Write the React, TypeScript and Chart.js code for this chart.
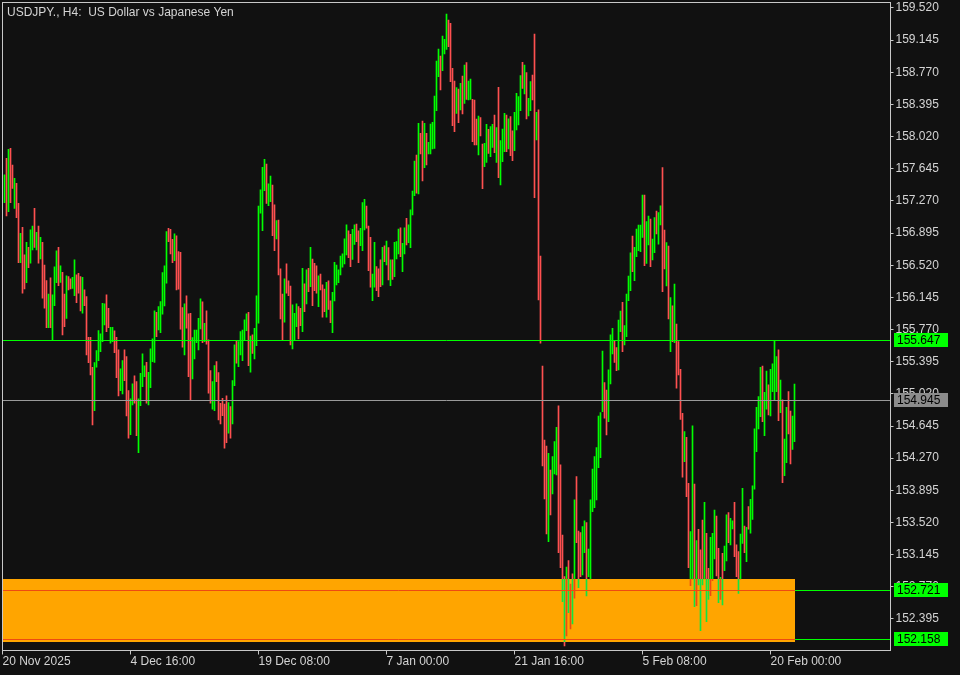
import React, { useEffect, useRef } from 'react';
import { Chart, registerables } from 'chart.js';

Chart.register(...registerables);

const TITLE = 'USDJPY., H4:  US Dollar vs Japanese Yen';

// category slots (H4 bars) incl. empty space on the right
const slotCount = 445;
const xTickIndex = [0, 64, 128, 192, 256, 320, 384];
const xTickLabels = ['20 Nov 2025', '4 Dec 16:00', '19 Dec 08:00', '7 Jan 00:00', '21 Jan 16:00', '5 Feb 08:00', '20 Feb 00:00'];

const yMin = 152.027;
const yMax = 159.584;
const yTickValues = [152.395, 152.770, 153.145, 153.520, 153.895, 154.270, 154.645, 155.020, 155.395, 155.770,
  156.145, 156.520, 156.895, 157.270, 157.645, 158.020, 158.395, 158.770, 159.145, 159.520];

const highs: (number | null)[] = [null,
  157.573, 157.767, 157.872, 157.884, 157.689, 157.534, 157.476, 157.242, 156.893, 156.963,
  156.640, 156.788, 156.729, 156.932, 156.978, 157.184, 156.904, 156.978, 156.846, 156.788,
  156.523, 156.341, 156.185, 156.372, 156.174, 156.500, 156.687, 156.729, 156.512, 156.438,
  156.185, 156.395, 156.387, 156.360, 156.380, 156.582, 156.407, 156.426, 156.387, 156.380,
  156.232, 156.154, 155.680, 155.680, 155.330, 155.385, 155.524, 155.758, 155.719, 156.076,
  156.069, 156.174, 156.018, 155.797, 155.797, 155.754, 155.680, 155.532, 155.311, 155.408,
  155.532, 155.454, 155.058, 154.961, 155.136, 155.229, 155.163, 154.961, 155.260, 155.486,
  155.346, 155.388, 155.272, 155.544, 155.661, 155.987, 155.971, 156.037, 156.096, 156.434,
  156.512, 156.912, 156.951, 156.939, 156.823, 156.885, 156.862, 156.679, 156.671, 156.026,
  156.069, 156.162, 155.952, 155.960, 155.676, 155.765, 155.765, 155.901, 156.127, 156.092,
  155.843, 155.987, 155.649, 155.291, 155.163, 155.350, 155.396, 155.268, 154.910, 154.969,
  154.902, 154.996, 154.918, 154.871, 155.175, 155.591, 155.641, 155.629, 155.746, 155.765,
  155.882, 155.952, 155.971, 155.695, 155.707, 155.785, 156.162, 157.211, 157.398, 157.662,
  157.756, 157.701, 157.468, 157.561, 157.456, 157.223, 157.040, 157.048, 156.477, 156.185,
  156.360, 156.535, 156.337, 156.278, 156.057, 155.960, 156.069, 156.037, 156.018, 156.485,
  156.302, 156.465, 156.485, 156.729, 156.593, 156.543, 156.512, 156.395, 156.418, 156.290,
  156.243, 156.321, 156.337, 156.104, 156.205, 156.554, 156.523, 156.465, 156.628, 156.652,
  156.827, 156.990, 156.920, 156.881, 156.939, 156.990, 157.001, 156.920, 156.951, 157.250,
  157.289, 157.211, 156.978, 156.846, 156.418, 156.788, 156.504, 156.477, 156.582, 156.729,
  156.745, 156.803, 156.725, 156.582, 156.582, 156.788, 156.795, 156.943, 156.955, 156.776,
  156.955, 157.068, 156.990, 157.165, 157.386, 157.736, 157.806, 158.175, 158.058, 158.202,
  158.175, 158.058, 157.953, 158.167, 158.186, 158.494, 158.902, 159.042, 158.960, 159.193,
  159.154, 159.450, 159.380, 159.341, 158.816, 158.668, 158.591, 158.575, 158.641, 158.727,
  158.855, 158.882, 158.668, 158.692, 158.455, 158.447, 158.225, 158.260, 158.241, 157.934,
  157.942, 158.163, 158.105, 158.136, 158.163, 158.272, 158.124, 158.595, 157.973, 158.109,
  158.292, 158.272, 158.226, 158.253, 158.086, 158.303, 158.525, 158.486, 158.731, 158.886,
  158.855, 158.766, 158.467, 158.661, 158.739, 159.217, 158.303, 158.331, 156.628, 155.345,
  154.482, 154.412, 154.327, 154.132, 154.288, 154.463, 154.630, 154.879, 154.191, 153.374,
  152.889, 153.000, 153.075, 152.803, 152.920, 153.783, 154.055, 153.421, 153.402, 153.472,
  153.538, 153.518, 153.211, 153.783, 154.144, 154.288, 154.393, 154.762, 154.801, 155.520,
  155.151, 155.065, 155.299, 155.707, 155.784, 155.636, 155.559, 155.881, 155.986, 156.087,
  155.815, 156.184, 156.394, 156.666, 156.861, 156.729, 156.942, 156.989, 156.989, 157.339,
  157.339, 157.028, 157.094, 157.059, 156.826, 157.075, 157.152, 157.133, 157.214, 157.658,
  156.931, 156.783, 156.744, 156.142, 156.048, 156.301, 155.835, 155.629, 155.306, 154.793,
  154.579, 154.513, 153.977, 153.413, 154.646, 153.969, 153.308, 153.441, 153.200, 153.549,
  153.755, 153.394, 152.986, 153.347, 153.394, 153.666, 153.596, 153.219, 152.881, 153.161,
  153.246, 153.608, 153.635, 153.569, 153.538, 153.755, 153.258, 153.180, 153.386, 153.919,
  153.479, 153.464, 153.705, 153.790, 153.946, 154.611, 154.863, 154.988, 155.330, 155.345,
  155.038, 155.287, 155.124, 155.306, 155.369, 155.637, 155.454, 155.532, 155.182, 154.949,
  154.494, 154.863, 155.046, 154.820, 154.762, 155.135];

const lows: (number | null)[] = [null,
  157.250, 157.095, 157.145, 157.250, 157.417, 157.184, 157.075, 156.551, 156.551, 156.193,
  156.243, 156.317, 156.492, 156.543, 156.698, 156.729, 156.698, 156.543, 156.593, 156.135,
  156.018, 155.793, 155.793, 155.793, 155.649, 156.049, 156.317, 156.282, 156.321, 155.707,
  155.804, 155.901, 156.232, 156.243, 156.251, 156.166, 156.084, 156.193, 155.987, 155.960,
  156.049, 155.474, 155.385, 155.241, 154.658, 154.825, 155.330, 155.408, 155.513, 155.629,
  155.824, 155.746, 155.793, 155.610, 155.629, 155.501, 155.210, 154.996, 155.058, 155.019,
  155.175, 154.763, 154.502, 154.545, 154.891, 154.910, 154.533, 154.335, 154.883, 155.105,
  155.221, 154.910, 154.891, 155.093, 155.396, 155.388, 155.688, 155.765, 155.734, 155.948,
  156.045, 156.310, 156.795, 156.652, 156.551, 156.574, 156.232, 156.240, 155.773, 155.563,
  155.474, 155.785, 155.221, 154.941, 155.194, 155.427, 155.618, 155.532, 155.777, 155.618,
  155.629, 155.598, 155.027, 154.910, 154.840, 154.825, 155.163, 154.716, 154.669, 154.767,
  154.386, 154.452, 154.561, 154.502, 154.669, 155.116, 155.377, 155.338, 155.474, 155.408,
  155.649, 155.758, 155.350, 155.272, 155.493, 155.427, 155.583, 155.843, 157.126, 156.924,
  157.390, 157.242, 157.215, 157.262, 156.865, 156.690, 156.827, 156.407, 155.894, 155.649,
  155.855, 156.193, 156.166, 155.591, 155.544, 155.649, 155.804, 155.661, 155.816, 155.746,
  155.979, 156.069, 156.212, 156.271, 156.049, 156.224, 156.193, 156.037, 156.232, 155.913,
  155.979, 155.913, 156.006, 155.851, 155.734, 156.104, 156.290, 156.317, 156.407, 156.496,
  156.535, 156.640, 156.609, 156.504, 156.589, 156.764, 156.795, 156.551, 156.749, 156.690,
  156.932, 156.951, 156.457, 156.263, 156.107, 156.263, 156.224, 156.154, 156.271, 156.290,
  156.562, 156.523, 156.348, 156.282, 156.356, 156.387, 156.593, 156.652, 156.621, 156.446,
  156.652, 156.757, 156.784, 156.725, 157.106, 157.332, 157.359, 157.351, 157.817, 157.502,
  157.658, 157.689, 157.817, 157.817, 157.876, 157.883, 158.323, 158.719, 158.564, 158.789,
  158.983, 159.038, 159.069, 158.661, 158.148, 158.078, 158.291, 158.183, 158.330, 158.284,
  158.408, 158.455, 158.447, 158.455, 157.961, 157.922, 157.922, 157.806, 158.027, 157.413,
  157.670, 157.720, 157.825, 157.786, 157.895, 157.833, 157.720, 157.541, 157.456, 157.728,
  157.845, 157.845, 157.876, 157.798, 157.740, 157.856, 158.097, 158.156, 158.323, 158.583,
  158.517, 158.226, 158.261, 158.323, 158.447, 157.308, 157.981, 156.115, 155.610, 154.179,
  153.794, 153.386, 153.297, 153.608, 153.853, 154.086, 154.074, 153.168, 152.994, 152.597,
  152.080, 152.197, 152.469, 152.278, 152.337, 152.636, 153.285, 152.760, 152.889, 152.908,
  153.168, 152.663, 152.889, 152.858, 153.647, 153.693, 153.783, 154.160, 154.276, 154.813,
  154.735, 154.541, 154.696, 155.135, 155.485, 155.388, 155.291, 155.299, 155.746, 155.512,
  155.590, 155.687, 156.107, 156.223, 156.445, 156.340, 156.620, 156.690, 156.678, 156.845,
  156.515, 156.542, 156.756, 156.503, 156.581, 156.666, 156.884, 156.767, 156.989, 156.212,
  156.476, 156.278, 155.893, 155.512, 155.629, 155.617, 155.085, 155.240, 154.723, 154.047,
  154.230, 153.822, 152.994, 152.784, 152.858, 152.539, 152.550, 152.792, 152.259, 152.792,
  152.861, 152.364, 152.624, 152.667, 152.842, 153.095, 152.896, 152.585, 152.624, 152.558,
  152.959, 153.071, 153.285, 153.258, 153.444, 153.122, 152.889, 152.694, 152.858, 153.277,
  153.168, 153.063, 153.441, 153.394, 153.557, 153.907, 154.346, 154.611, 154.754, 154.696,
  154.533, 154.840, 154.774, 154.762, 155.046, 154.941, 155.046, 154.708, 154.801, 153.985,
  154.066, 154.218, 154.552, 154.202, 154.373, 154.463];

// 1 = bullish bar, 0 = bearish bar
const dirs: number[] = [0,
  1, 0, 1, 0, 0, 1, 0, 0, 1, 0,
  0, 1, 0, 1, 1, 0, 1, 0, 1, 0,
  0, 0, 1, 0, 1, 1, 1, 0, 1, 0,
  0, 1, 0, 0, 1, 1, 0, 0, 0, 1,
  0, 0, 0, 0, 0, 1, 1, 1, 1, 1,
  1, 0, 0, 1, 1, 0, 0, 0, 1, 1,
  0, 0, 0, 1, 1, 0, 0, 1, 1, 1,
  1, 0, 1, 1, 1, 1, 0, 1, 1, 1,
  1, 1, 0, 0, 0, 1, 0, 0, 0, 0,
  1, 0, 0, 0, 1, 1, 1, 1, 1, 0,
  1, 0, 0, 0, 1, 1, 0, 0, 0, 0,
  0, 0, 1, 0, 1, 1, 0, 1, 1, 1,
  1, 1, 0, 1, 0, 1, 1, 1, 1, 1,
  1, 0, 1, 1, 0, 0, 1, 0, 0, 0,
  1, 0, 0, 0, 1, 1, 1, 0, 0, 1,
  0, 1, 0, 1, 0, 0, 0, 1, 0, 0,
  0, 1, 0, 0, 1, 1, 1, 1, 1, 1,
  1, 1, 0, 0, 1, 1, 0, 0, 1, 1,
  1, 0, 0, 0, 1, 1, 0, 0, 0, 1,
  0, 1, 0, 1, 0, 1, 1, 1, 0, 1,
  1, 0, 1, 1, 1, 1, 0, 1, 0, 0,
  1, 0, 1, 1, 1, 1, 1, 1, 0, 1,
  1, 1, 0, 0, 0, 0, 1, 0, 1, 0,
  1, 0, 1, 1, 0, 0, 0, 1, 0, 0,
  1, 1, 0, 1, 1, 0, 1, 0, 1, 1,
  1, 0, 1, 0, 0, 1, 1, 1, 1, 0,
  1, 0, 1, 1, 0, 0, 1, 0, 0, 0,
  0, 0, 1, 0, 1, 1, 1, 0, 0, 0,
  0, 1, 0, 1, 0, 1, 0, 0, 0, 1,
  1, 0, 1, 1, 1, 1, 1, 1, 1, 1,
  0, 0, 1, 1, 1, 0, 0, 1, 1, 0,
  1, 1, 1, 1, 0, 1, 1, 1, 1, 1,
  0, 1, 1, 0, 1, 1, 0, 1, 1, 0,
  0, 1, 0, 1, 0, 1, 0, 0, 0, 0,
  1, 0, 0, 1, 1, 0, 1, 0, 0, 0,
  1, 0, 0, 1, 1, 1, 0, 0, 1, 0,
  1, 1, 0, 1, 1, 0, 0, 0, 1, 1,
  0, 1, 0, 1, 1, 1, 1, 1, 1, 0,
  1, 1, 0, 1, 1, 1, 1, 0, 1, 0,
  1, 1, 0, 0, 1, 1];

// horizontal levels
const levelPrices = [155.647, 154.945, 152.721, 152.158];
const levelIsGrey = [false, true, false, false];
// support zone rectangle (price range, last bar index it reaches)
const zonePrices = [152.126, 152.861];
const zoneEndIndex = 396;

// colours
const BG = [17, 17, 17];
const ORANGE = [255, 165, 0];
const UP = [0, 255, 0];
const DOWN = [255, 80, 80];
const LINE_GREEN = [0, 255, 0];
const GREY_LINE = '#9a9a9a';
const GREY_BOX = '#8c8c8c';
const FRAME = '#c8c8c8';
const TEXT = '#d4d4d4';
const FONT_FAMILY = '"Liberation Sans", Arial, sans-serif';

const rgb = (c: number[]) => `rgb(${c[0]},${c[1]},${c[2]})`;
const xorZone = (c: number[]) => c.map((v, k) => v ^ BG[k] ^ ORANGE[k]);

function barFill(c: any) {
  const chart = c.chart;
  const up = dirs[c.dataIndex] === 1;
  const area = chart.chartArea;
  const ys = chart.scales && chart.scales.y;
  const base = up ? UP : DOWN;
  if (!area || !ys) return rgb(base);
  if (!chart.$mtGrad) {
    const t = Math.round(ys.getPixelForValue(zonePrices[1]));
    const b = Math.round(ys.getPixelForValue(zonePrices[0]));
    const h = area.bottom - area.top;
    const f1 = Math.min(Math.max((t - area.top) / h, 0), 1);
    const f2 = Math.min(Math.max((b - area.top) / h, 0), 1);
    const mk = (col: number[]) => {
      const g = chart.ctx.createLinearGradient(0, area.top, 0, area.bottom);
      g.addColorStop(0, rgb(col));
      g.addColorStop(f1, rgb(col));
      g.addColorStop(f1, rgb(xorZone(col)));
      g.addColorStop(f2, rgb(xorZone(col)));
      g.addColorStop(f2, rgb(col));
      g.addColorStop(1, rgb(col));
      return g;
    };
    chart.$mtGrad = { up: mk(UP), down: mk(DOWN) };
  }
  return up ? chart.$mtGrad.up : chart.$mtGrad.down;
}

const mtPlugin = {
  id: 'mtStyle',
  beforeDraw(chart: any) {
    const ctx = chart.ctx;
    ctx.save();
    ctx.fillStyle = rgb(BG);
    ctx.fillRect(0, 0, chart.width, chart.height);
    ctx.restore();
  },
  beforeDatasetsDraw(chart: any) {
    const { ctx, chartArea: a, scales } = chart;
    const t = Math.round(scales.y.getPixelForValue(zonePrices[1]));
    const b = Math.round(scales.y.getPixelForValue(zonePrices[0]));
    const r = Math.round(scales.x.getPixelForValue(zoneEndIndex) + 0.5);
    const l = Math.floor(a.left);
    ctx.save();
    ctx.fillStyle = rgb(ORANGE);
    ctx.fillRect(l, t, r - l, b - t);
    ctx.restore();
  },
  afterDatasetsDraw(chart: any) {
    const { ctx, chartArea: a, scales } = chart;
    const t = Math.round(scales.y.getPixelForValue(zonePrices[1]));
    const b = Math.round(scales.y.getPixelForValue(zonePrices[0]));
    const r = Math.round(scales.x.getPixelForValue(zoneEndIndex) + 0.5);
    ctx.save();
    ctx.lineWidth = 1;
    levelPrices.forEach((p, k) => {
      const y = Math.round(scales.y.getPixelForValue(p) - 0.5) + 0.5;
      const col = levelIsGrey[k] ? GREY_LINE : rgb(LINE_GREEN);
      const inZone = y > t && y < b && !levelIsGrey[k];
      ctx.strokeStyle = col;
      ctx.beginPath();
      ctx.moveTo(inZone ? r : a.left, y);
      ctx.lineTo(a.right, y);
      ctx.stroke();
      if (inZone) {
        ctx.strokeStyle = rgb(xorZone(LINE_GREEN));
        ctx.beginPath();
        ctx.moveTo(a.left, y);
        ctx.lineTo(r, y);
        ctx.stroke();
      }
    });
    // frame
    ctx.strokeStyle = FRAME;
    ctx.strokeRect(a.left, a.top, a.right - a.left, a.bottom - a.top);
    ctx.restore();
  },
  afterDraw(chart: any) {
    const { ctx, chartArea: a, scales } = chart;
    ctx.save();
    ctx.font = `12px ${FONT_FAMILY}`;
    ctx.textBaseline = 'middle';
    ctx.textAlign = 'left';
    levelPrices.forEach((p, k) => {
      const row = Math.round(scales.y.getPixelForValue(p) - 0.5);
      const bx = Math.round(a.right) + 3;
      ctx.fillStyle = levelIsGrey[k] ? GREY_BOX : rgb(LINE_GREEN);
      ctx.fillRect(bx, row - 7, 54, 14);
      ctx.fillStyle = '#000000';
      ctx.fillText(p.toFixed(3), bx + 3, row + 0.5);
    });
    ctx.fillStyle = TEXT;
    ctx.textBaseline = 'alphabetic';
    ctx.fillText(TITLE, 7, 16);
    ctx.restore();
  },
};

export default function App() {
  const ref = useRef<HTMLCanvasElement | null>(null);

  useEffect(() => {
    document.body.style.margin = '0';
    document.body.style.background = rgb(BG);
    const canvas = ref.current;
    if (!canvas) return;
    const labels = Array.from({ length: slotCount }, (_, i) => String(i));
    const data = highs.map((h, i) => (h == null || lows[i] == null ? null : [lows[i] as number, h]));
    const chart = new Chart(canvas, {
      type: 'bar',
      data: {
        labels,
        datasets: [
          {
            data: data as any,
            backgroundColor: barFill as any,
            borderWidth: 0,
            barThickness: 1,
            grouped: false,
          } as any,
        ],
      },
      options: {
        responsive: false,
        animation: false,
        devicePixelRatio: 1,
        events: [],
        layout: { padding: { left: 2.5, top: 2.5, right: 0, bottom: 0 } },
        plugins: { legend: { display: false }, tooltip: { enabled: false }, title: { display: false } },
        scales: {
          x: {
            type: 'category',
            offset: false,
            afterBuildTicks: (s: any) => {
              s.ticks = xTickIndex.map((v) => ({ value: v }));
            },
            afterFit: (s: any) => {
              s.height = 24.5;
              s.paddingLeft = 0;
              s.paddingRight = 0;
            },
            grid: { offset: false, drawOnChartArea: false, drawTicks: true, tickLength: 4, color: FRAME },
            border: { display: false },
            ticks: {
              autoSkip: false,
              maxRotation: 0,
              minRotation: 0,
              align: 'start',
              padding: 0,
              color: TEXT,
              font: { family: FONT_FAMILY, size: 12 },
              callback: (v: any) => {
                const k = xTickIndex.indexOf(Number(v));
                return k >= 0 ? xTickLabels[k] : '';
              },
            },
          },
          y: {
            type: 'linear',
            position: 'right',
            min: yMin,
            max: yMax,
            afterBuildTicks: (s: any) => {
              s.ticks = yTickValues.map((v) => ({ value: v }));
            },
            afterFit: (s: any) => {
              s.width = 69.5;
              s.paddingTop = 0;
              s.paddingBottom = 0;
            },
            grid: { drawOnChartArea: false, drawTicks: true, tickLength: 3, color: FRAME },
            border: { display: false },
            ticks: {
              padding: 2,
              color: TEXT,
              font: { family: FONT_FAMILY, size: 12 },
              callback: (v: any) => Number(v).toFixed(3),
            },
          },
        },
      } as any,
      plugins: [mtPlugin],
    });
    return () => chart.destroy();
  }, []);

  return (
    <div style={{ width: 960, height: 675, background: rgb(BG) }}>
      <canvas ref={ref} width={960} height={675} style={{ display: 'block', width: 960, height: 675 }} />
    </div>
  );
}
